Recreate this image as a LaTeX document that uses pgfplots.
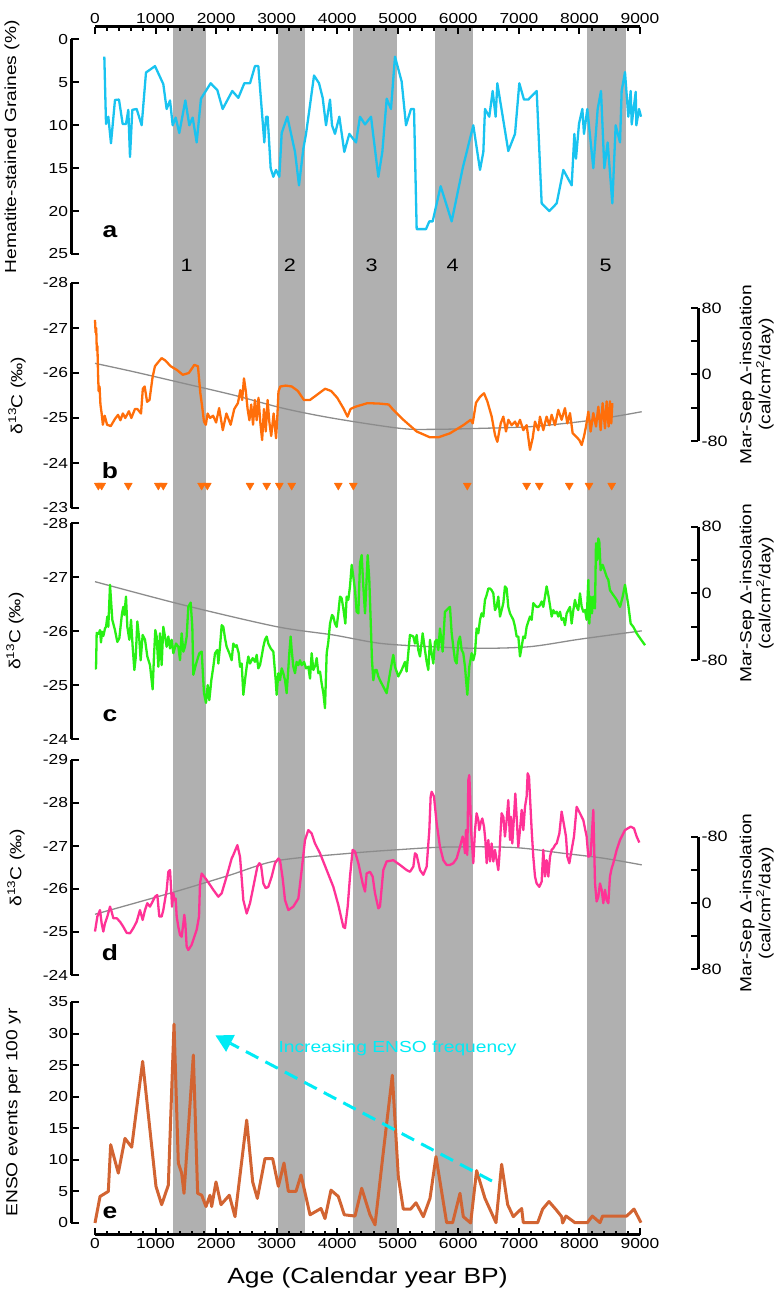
\documentclass[border=0pt]{standalone}
\usepackage{pgfplots}
\pgfplotsset{compat=1.18}
\usepackage{fontspec}
\setmainfont[FakeStretch=1.2]{Liberation Sans}
\definecolor{ca}{RGB}{25,195,240}
\definecolor{cb}{RGB}{255,110,10}
\definecolor{cc}{RGB}{40,240,20}
\definecolor{cd}{RGB}{255,50,150}
\definecolor{ce}{RGB}{210,100,50}
\definecolor{carrow}{RGB}{0,235,245}
\definecolor{band}{RGB}{176,176,176}
\definecolor{insol}{RGB}{140,140,140}
\tikzset{letter/.style={font=\bfseries\fontsize{22}{22}\selectfont}}
\pgfplotsset{
  base/.style={scale only axis, clip=false, anchor=south west,
    /pgf/number format/assume math mode=true,
    /pgf/number format/1000 sep={},
    tick align=inside,
    every tick label/.append style={font=\fontsize{14.5}{14.5}\selectfont},
    major tick length=7pt, minor tick length=4pt,
    every tick/.style={black, line width=2pt},
    every axis plot/.append style={line join=round},
  },
  leftp/.style={base, width=568.5pt, xmin=-388, xmax=9000,
    axis x line=none, axis y line*=left, y axis line style={-, line width=3pt},
    ylabel style={anchor=center, font=\fontsize{16}{16}\selectfont}},
  rightp/.style={base, width=603pt, xmin=0, xmax=9957.6,
    axis x line=none, axis y line*=right, y axis line style={-, line width=3pt},
    ytick={-80,-40,0,40,80}, yticklabels={-80,,0,,80},
    every tick label/.append style={font=\fontsize{15}{15}\selectfont},
    ylabel={Mar-Sep Δ-insolation\\(cal/cm\textsuperscript{2}/day)},
    ylabel style={anchor=center, align=center, font=\fontsize{16}{19}\selectfont,
      at={(axis description cs:1.0973,0.5)}}},
}
\begin{document}
\begin{tikzpicture}
\useasboundingbox (0,0) rectangle (781pt,1294pt);

% ---------- frame: bands, bottom and top x axes ----------
\begin{axis}[base, at={(95pt,59pt)}, width=545pt, height=1208pt,
  xmin=0, xmax=9000, ymin=59, ymax=1267,
  axis x line=box, axis y line=none, axis on top,
  x axis line style={-, line width=3pt},
  xtick={0,1000,...,9000}, minor x tick num=4, xticklabel pos=bottom,
  xlabel={Age (Calendar year BP)},
  xlabel style={at={(axis description cs:0.5,0)}, anchor=center, yshift=-43pt,
    font=\fontsize{22}{22}\selectfont}]
\fill[band] (axis cs:1290,59) rectangle (axis cs:1833,1267);
\fill[band] (axis cs:3027,59) rectangle (axis cs:3468,1267);
\fill[band] (axis cs:4255,59) rectangle (axis cs:4982,1267);
\fill[band] (axis cs:5615,59) rectangle (axis cs:6248,1267);
\fill[band] (axis cs:8130,59) rectangle (axis cs:8763,1267);
\begin{scope}[every node/.style={font=\fontsize{18}{18}\selectfont}]
\node at (axis cs:1514,1029) {1};
\node at (axis cs:3220,1029) {2};
\node at (axis cs:4569,1029) {3};
\node at (axis cs:5907,1029) {4};
\node at (axis cs:8433,1029) {5};
\end{scope}
\end{axis}
\begin{axis}[base, at={(95pt,59pt)}, width=545pt, height=1208pt,
  xmin=0, xmax=9000, ymin=59, ymax=1267,
  axis x line*=top, axis y line=none,
  x axis line style={draw=none}, xtick style={draw=none},
  xtick={0,1000,...,9000}, xticklabel pos=top]
\end{axis}

% ---------- panel a ----------
\begin{axis}[leftp, at={(71.5pt,1040pt)}, height=214.5pt, ymin=0, ymax=25, y dir=reverse,
  ytick={0,5,...,25}, ylabel={Hematite-stained Graines (\%)},
  ylabel style={at={(axis description cs:-0.1047,0.5)}}]
\addplot[ca, line width=2.3pt] table {
154 2.0
182 9.85
220 9.0
264 12.1
330 7.05
396 7.0
457 9.85
512 9.85
550 8.2
578 13.7
616 8.2
688 8.1
771 10.0
842 3.85
991 3.1
1128 5.2
1183 8.1
1239 7.1
1283 10.0
1332 9.1
1392 10.9
1492 7.1
1558 10.0
1613 9.1
1679 12.0
1750 6.9
1910 5.1
2020 5.9
2108 8.1
2267 6.0
2367 6.8
2466 5.1
2560 5.1
2642 3.1
2697 3.1
2796 12.0
2824 9.0
2851 9.0
2901 15.0
2945 16.0
2989 15.2
3044 16.0
3083 10.9
3176 9.0
3303 13.1
3369 17.0
3441 12.7
3485 11.0
3540 8.2
3617 4.2
3700 5.1
3760 6.8
3815 10.0
3881 7.0
3914 10.0
3963 11.0
4035 9.0
4117 13.1
4200 11.0
4310 12.0
4376 9.0
4459 9.9
4558 9.0
4679 16.0
4745 13.1
4817 6.9
4888 8.1
4954 2.0
5064 4.9
5136 10.0
5218 8.1
5268 8.1
5312 22.1
5466 22.1
5521 21.2
5576 21.2
5708 17.1
5890 21.2
6072 15.0
6247 10.0
6358 15.2
6413 13.1
6440 8.1
6511 9.0
6567 6.0
6616 9.0
6644 5.1
6825 13.0
6936 11.0
7007 5.1
7084 7.0
7156 7.0
7294 6.0
7376 19.1
7502 20.0
7624 19.1
7734 15.2
7872 17.0
7916 11.0
7943 13.9
7993 9.8
8048 8.1
8075 11.0
8130 8.1
8229 15.0
8301 8.1
8356 6.0
8411 15.0
8466 12.0
8543 19.1
8598 10.0
8670 12.0
8697 6.0
8752 3.8
8807 9.0
8846 6.0
8863 9.9
8929 6.1
8940 10.0
8984 8.1
9017 9.0
};
\node[letter] at (axis cs:248,22.4) {a};
\end{axis}

% ---------- panel b ----------
\begin{axis}[rightp, at={(95pt,853pt)}, height=133pt, ymin=-80, ymax=80]
\addplot[insol, line width=1.3pt, smooth] table {
0 13.4
633 3.4
1459 -10.6
2284 -24.7
3110 -40.7
3936 -52.7
5037 -64.8
5587 -66
6358 -64.8
7183 -62.8
8009 -56.8
8560 -50.8
9028 -44.8
};
\end{axis}
\begin{axis}[leftp, at={(71.5pt,786pt)}, height=225pt, ymin=-28, ymax=-23, y dir=reverse,
  ytick={-28,-27,...,-23}, ylabel={δ\textsuperscript{13}C (‰)},
  ylabel style={at={(axis description cs:-0.0959,0.5)}}]
\addplot[cb, line width=2.3pt] table {
0 -27.18
10 -26.9
20 -27.0
30 -26.5
40 -26.6
50 -26.0
60 -25.6
75 -25.7
90 -25.3
110 -25.1
130 -24.85
160 -25.05
200 -24.85
260 -24.82
330 -24.98
380 -25.07
420 -24.95
460 -25.1
500 -25.0
560 -25.15
600 -25.0
660 -25.2
700 -25.2
760 -25.1
790 -25.65
820 -25.7
860 -25.36
900 -25.4
950 -25.9
990 -26.15
1050 -26.25
1100 -26.33
1160 -26.28
1250 -26.15
1350 -26.07
1450 -25.96
1550 -26.0
1640 -26.18
1700 -26.15
1740 -25.55
1770 -25.25
1800 -24.92
1830 -24.85
1860 -25.1
1900 -25.0
1950 -25.05
2000 -24.9
2050 -25.22
2110 -24.73
2170 -25.1
2240 -24.85
2300 -25.2
2360 -25.33
2400 -25.62
2430 -25.4
2460 -25.88
2490 -25.6
2520 -25.2
2550 -24.95
2580 -25.3
2610 -24.85
2640 -25.4
2670 -24.95
2700 -25.45
2730 -24.9
2760 -24.51
2790 -25.2
2820 -24.7
2850 -25.4
2880 -24.9
2910 -24.6
2950 -25.1
2990 -24.55
3010 -25.0
3030 -25.59
3060 -25.7
3150 -25.72
3250 -25.7
3350 -25.6
3450 -25.4
3550 -25.4
3650 -25.5
3800 -25.65
3900 -25.6
4000 -25.45
4100 -25.22
4170 -25.03
4220 -25.2
4300 -25.25
4500 -25.33
4700 -25.32
4850 -25.3
4926 -25.18
5092 -24.96
5312 -24.70
5532 -24.57
5669 -24.57
5862 -24.66
6082 -24.84
6204 -24.96
6237 -24.88
6292 -25.34
6358 -25.47
6424 -25.55
6479 -25.37
6551 -25.03
6606 -24.62
6644 -24.47
6700 -24.88
6743 -25.03
6787 -24.70
6826 -24.96
6881 -24.84
6936 -24.92
6973 -24.81
7018 -24.96
7073 -24.73
7128 -24.84
7183 -24.29
7227 -24.55
7266 -24.92
7321 -24.73
7348 -25.03
7403 -24.73
7458 -25.03
7502 -24.84
7541 -25.07
7596 -24.84
7651 -25.18
7706 -24.96
7761 -25.22
7800 -24.88
7844 -25.11
7888 -24.66
7943 -24.59
7998 -24.51
8037 -24.40
8075 -24.59
8108 -24.81
8147 -25.14
8185 -24.70
8229 -25.11
8273 -24.81
8312 -25.25
8350 -24.73
8383 -25.33
8422 -24.77
8449 -25.37
8482 -24.81
8504 -25.37
8526 -24.88
8543 -25.33
};
\addplot[only marks, mark=triangle*, mark size=4.6pt, cb, mark options={rotate=180}] table {
55 -23.5
110 -23.5
550 -23.5
1046 -23.5
1128 -23.5
1761 -23.5
1855 -23.5
2560 -23.5
2835 -23.5
3044 -23.5
3248 -23.5
4018 -23.5
4266 -23.5
6148 -23.5
7128 -23.5
7337 -23.5
7832 -23.5
8158 -23.5
8532 -23.5
};
\node[letter] at (axis cs:248,-23.84) {b};
\end{axis}

% ---------- panel c ----------
\begin{axis}[rightp, at={(95pt,634pt)}, height=133.3pt, ymin=-80, ymax=80]
\addplot[insol, line width=1.3pt, smooth] table {
0 14
1459 -14
3000 -40
3936 -50
4706 -60
5532 -64
6358 -66
7183 -64
8009 -55
9028 -45
};
\end{axis}
\begin{axis}[leftp, at={(71.5pt,555pt)}, height=215.7pt, ymin=-28, ymax=-24, y dir=reverse,
  ytick={-28,-27,...,-24}, ylabel={δ\textsuperscript{13}C (‰)},
  ylabel style={at={(axis description cs:-0.0994,0.5)}}]
\addplot[cc, line width=2.3pt] table {
0 -25.31
17 -25.31
28 -25.97
61 -25.95
83 -26.02
99 -25.79
116 -25.99
138 -25.91
165 -26.05
182 -26.08
204 -26.27
220 -26.08
248 -26.86
286 -26.21
330 -26.02
369 -25.80
402 -25.87
446 -26.33
468 -26.45
484 -26.30
512 -26.64
534 -26.08
567 -25.84
595 -26.21
622 -25.71
650 -25.28
672 -25.50
699 -26.18
732 -25.84
754 -25.46
787 -25.93
826 -25.84
864 -25.53
908 -25.37
952 -24.92
974 -25.53
996 -26.02
1018 -25.90
1046 -25.34
1073 -25.96
1101 -25.37
1128 -26.08
1156 -25.90
1183 -25.71
1211 -25.90
1239 -25.68
1266 -25.84
1294 -25.59
1338 -25.77
1376 -25.71
1404 -25.46
1431 -25.96
1459 -25.62
1486 -25.71
1514 -25.90
1541 -26.45
1580 -26.53
1607 -26.08
1624 -25.19
1657 -25.34
1679 -25.43
1723 -25.59
1762 -25.62
1800 -24.85
1833 -24.67
1861 -25.00
1888 -24.72
1921 -25.09
1954 -25.34
1982 -25.59
2020 -25.65
2037 -25.40
2064 -25.71
2092 -26.11
2119 -26.08
2147 -25.87
2174 -25.71
2218 -25.59
2257 -25.46
2284 -25.77
2317 -25.71
2339 -25.74
2373 -25.59
2395 -25.34
2422 -25.40
2450 -24.82
2477 -25.09
2505 -25.34
2532 -25.53
2560 -25.40
2604 -25.50
2642 -25.43
2670 -25.56
2697 -25.31
2725 -25.37
2752 -25.53
2780 -25.71
2807 -25.84
2835 -25.90
2862 -25.77
2901 -25.68
2945 -25.62
2984 -25.09
3000 -24.82
3028 -25.22
3055 -25.09
3083 -25.31
3110 -25.22
3138 -25.09
3165 -24.85
3193 -25.31
3209 -25.59
3231 -25.90
3248 -25.65
3275 -25.34
3303 -25.22
3330 -25.43
3358 -25.37
3385 -25.46
3413 -25.37
3452 -25.43
3485 -25.31
3523 -25.34
3551 -25.12
3578 -25.59
3606 -25.28
3639 -25.37
3661 -25.50
3688 -25.22
3716 -25.25
3743 -25.03
3771 -24.85
3798 -24.57
3826 -25.59
3853 -25.80
3881 -26.14
3914 -26.30
3936 -26.27
3963 -26.14
3991 -26.08
4018 -26.33
4046 -26.64
4073 -26.61
4101 -26.42
4134 -26.14
4156 -26.64
4183 -26.58
4211 -26.83
4239 -27.23
4266 -27.01
4294 -26.76
4321 -26.36
4349 -26.33
4376 -27.26
4404 -27.41
4431 -26.83
4459 -26.33
4475 -26.70
4503 -27.41
4530 -26.95
4552 -26.21
4574 -25.46
4596 -25.09
4624 -25.28
4651 -25.28
4679 -25.16
4706 -25.09
4761 -24.97
4816 -24.85
4871 -25.22
4926 -25.56
4954 -25.34
5009 -25.16
5064 -25.28
5119 -25.43
5146 -25.25
5201 -25.93
5257 -25.90
5284 -25.77
5312 -25.93
5339 -25.65
5367 -25.53
5411 -25.96
5449 -25.65
5477 -25.43
5504 -25.28
5532 -25.84
5559 -25.59
5587 -25.40
5614 -25.80
5642 -25.84
5669 -25.65
5697 -26.05
5741 -25.62
5779 -26.36
5835 -26.42
5862 -26.45
5890 -25.96
5917 -25.71
5945 -25.46
5972 -25.40
6000 -25.80
6027 -25.90
6055 -25.65
6082 -25.59
6110 -25.34
6148 -24.82
6181 -25.34
6220 -25.59
6247 -25.46
6275 -25.59
6302 -26.05
6330 -25.96
6358 -26.21
6385 -26.33
6413 -26.27
6440 -26.58
6468 -26.67
6495 -26.79
6523 -26.79
6550 -26.76
6578 -26.70
6605 -26.39
6633 -26.45
6660 -26.64
6688 -26.27
6715 -26.39
6743 -26.52
6770 -26.83
6798 -26.79
6825 -26.45
6853 -26.33
6880 -26.27
6908 -26.21
6936 -26.08
6963 -25.90
6991 -25.90
7018 -25.53
7046 -25.71
7073 -25.90
7101 -25.87
7128 -26.08
7156 -26.18
7183 -26.27
7211 -26.21
7238 -26.52
7266 -26.48
7293 -26.45
7321 -26.45
7348 -26.48
7376 -26.55
7403 -26.45
7431 -26.64
7458 -26.83
7486 -26.67
7513 -26.48
7541 -26.27
7569 -26.39
7596 -26.33
7624 -26.36
7651 -26.27
7679 -26.36
7706 -26.21
7734 -26.24
7761 -26.11
7789 -26.33
7816 -26.39
7844 -26.45
7871 -26.14
7899 -26.39
7926 -26.58
7954 -26.45
7981 -26.39
8009 -26.70
8037 -26.45
8064 -26.36
8092 -26.39
8119 -26.21
8147 -26.95
8163 -26.14
8185 -26.64
8207 -26.33
8229 -26.64
8257 -26.42
8273 -27.63
8295 -27.32
8312 -27.72
8328 -27.66
8350 -27.13
8383 -27.23
8422 -27.10
8449 -27.01
8477 -26.95
8504 -26.76
8559 -26.67
8615 -26.58
8670 -26.45
8714 -26.64
8752 -26.86
8807 -26.48
8846 -26.14
8890 -26.08
8945 -25.96
9000 -25.87
9083 -25.74
};
\node[letter] at (axis cs:248,-24.44) {c};
\end{axis}

% ---------- panel d ----------
\begin{axis}[rightp, at={(95pt,324.7pt)}, height=132.6pt, ymin=-80, ymax=80, y dir=reverse]
\addplot[insol, line width=1.3pt, smooth] table {
0 13.6
1294 -13
2200 -33
3000 -51
4211 -60
5037 -64.5
5807 -67.5
6908 -67
7734 -60
8400 -54
9028 -46
};
\end{axis}
\begin{axis}[leftp, at={(71.5pt,319pt)}, height=215pt, ymin=-29, ymax=-24, y dir=reverse,
  ytick={-29,-28,...,-24}, ylabel={δ\textsuperscript{13}C (‰)},
  ylabel style={at={(axis description cs:-0.0976,0.5)}}]
\addplot[cd, line width=2.3pt] table {
0 -25.01
39 -25.36
83 -25.51
110 -25.20
138 -25.01
165 -25.20
204 -25.36
248 -25.59
275 -25.47
303 -25.32
358 -25.32
413 -25.24
468 -25.12
523 -24.98
578 -24.97
633 -25.09
688 -25.24
743 -25.51
787 -25.28
826 -25.51
864 -25.67
908 -25.59
952 -25.71
991 -25.82
1029 -25.86
1062 -25.36
1101 -25.36
1128 -25.51
1184 -25.98
1211 -26.40
1239 -26.44
1255 -26.05
1272 -25.59
1294 -25.90
1310 -25.74
1332 -25.78
1349 -25.36
1376 -25.12
1404 -24.93
1431 -24.89
1459 -25.20
1475 -25.40
1492 -25.20
1514 -24.66
1541 -24.58
1596 -24.70
1679 -25.05
1718 -25.36
1734 -26.13
1762 -26.36
1844 -26.21
1954 -25.98
2037 -25.82
2092 -25.90
2174 -26.29
2257 -26.71
2284 -26.79
2351 -27.02
2395 -26.75
2450 -25.74
2505 -25.43
2560 -25.67
2626 -26.13
2681 -26.52
2714 -26.60
2741 -26.56
2780 -26.13
2818 -26.02
2862 -26.05
2918 -26.29
2973 -26.60
3028 -26.71
3055 -26.67
3099 -26.25
3138 -25.74
3193 -25.51
3275 -25.59
3358 -25.78
3413 -26.44
3468 -27.14
3523 -27.37
3578 -27.29
3633 -27.06
3716 -26.83
3826 -26.44
3936 -26.05
4018 -25.63
4101 -25.12
4129 -25.09
4173 -25.59
4211 -26.29
4255 -26.91
4294 -26.87
4349 -26.60
4420 -26.13
4459 -25.94
4486 -26.36
4541 -26.40
4585 -26.29
4624 -25.90
4679 -25.55
4706 -25.59
4761 -26.44
4816 -26.64
4926 -26.67
5036 -26.56
5146 -26.44
5201 -26.40
5257 -26.52
5284 -26.83
5312 -26.79
5367 -26.44
5422 -26.33
5477 -26.52
5521 -27.37
5543 -28.15
5559 -28.26
5598 -28.15
5642 -27.53
5697 -26.98
5752 -26.67
5807 -26.56
5862 -26.56
5917 -26.60
5972 -26.71
6027 -26.98
6071 -27.22
6093 -27.06
6110 -26.83
6126 -27.37
6148 -26.79
6165 -28.53
6181 -28.65
6192 -28.30
6209 -27.37
6225 -27.06
6247 -26.60
6275 -27.37
6302 -27.76
6330 -27.60
6346 -27.37
6368 -27.53
6396 -27.64
6424 -27.45
6446 -27.14
6468 -26.60
6495 -27.14
6523 -26.64
6550 -27.06
6578 -26.64
6605 -26.91
6633 -26.67
6660 -26.44
6677 -26.75
6699 -27.37
6715 -27.76
6743 -27.68
6770 -27.22
6798 -27.60
6825 -28.07
6853 -27.14
6869 -27.68
6891 -27.06
6919 -27.68
6941 -28.22
6963 -27.68
6990 -26.98
7018 -27.37
7046 -27.84
7073 -27.37
7101 -27.91
7128 -28.15
7145 -28.69
7167 -28.61
7183 -28.15
7211 -27.37
7238 -26.75
7266 -26.29
7293 -26.13
7337 -26.05
7376 -26.17
7403 -26.91
7431 -26.29
7458 -26.67
7486 -26.29
7514 -26.75
7541 -26.91
7569 -26.95
7596 -27.02
7624 -27.06
7668 -27.29
7706 -27.80
7745 -27.49
7778 -27.22
7800 -26.75
7833 -26.60
7871 -26.91
7910 -27.22
7954 -27.91
8009 -27.76
8064 -27.60
8119 -27.22
8147 -26.75
8185 -26.79
8229 -27.84
8257 -26.13
8284 -25.71
8312 -25.82
8339 -26.13
8367 -25.98
8394 -25.67
8422 -25.98
8449 -25.74
8477 -25.67
8504 -26.29
8532 -26.48
8559 -26.60
8615 -26.91
8670 -27.14
8752 -27.37
8846 -27.45
8901 -27.41
8945 -27.22
8989 -27.08
};
\node[letter] at (axis cs:248,-24.53) {d};
\end{axis}

% ---------- panel e ----------
\begin{axis}[leftp, at={(71.5pt,71pt)}, height=221pt, ymin=0, ymax=35,
  ytick={0,5,...,35}, ylabel={ENSO events per 100 yr},
  ylabel style={at={(axis description cs:-0.1020,0.5)}}]
\addplot[ce, line width=3pt] table {
0 0
83 4.2
220 5.0
259 12.4
385 7.9
495 13.4
606 12.0
787 25.6
1007 5.8
1101 2.9
1211 6.0
1305 31.5
1376 9.5
1431 7.9
1470 4.7
1624 26.6
1695 4.7
1762 4.4
1833 2.6
1899 4.4
1927 2.6
1998 6.5
2081 2.9
2218 4.4
2312 1.0
2505 16.3
2604 6.5
2681 3.9
2807 10.2
2934 10.2
3028 5.8
3121 9.5
3193 5.0
3319 5.0
3402 7.6
3551 1.3
3732 2.3
3798 0.7
3897 5.2
4018 4.2
4117 1.3
4294 1.1
4404 5.5
4541 1.3
4624 -0.3
4762 11.3
4910 23.4
5009 7.3
5091 2.2
5212 2.2
5301 3.2
5422 1.0
5532 3.9
5631 10.5
5807 0.05
5906 0.05
6027 4.7
6082 1.0
6203 0
6302 8.3
6440 3.9
6622 0.05
6715 9.3
6815 2.9
6908 1.0
7046 2.3
7073 0.05
7310 0.05
7392 2.2
7497 3.4
7624 2.0
7706 1.0
7723 0
7778 1.1
7926 0.05
8130 0.05
8213 1.1
8339 0.05
8383 1.1
8780 1.1
8901 2.2
9017 0.05
};
\draw[carrow, line width=3pt, dash pattern=on 14pt off 8pt] (axis cs:6555,6.65) -- (axis cs:2238,28.44);
\fill[carrow] (axis cs:1990,29.7) -- (axis cs:2310,29.78) -- (axis cs:2165,27.11) -- cycle;
\node[carrow, anchor=west, font=\fontsize{16}{16}\selectfont] at (axis cs:2972,27.7) {Increasing ENSO frequency};
\node[letter] at (axis cs:248,1.6) {e};
\end{axis}
\end{tikzpicture}
\end{document}
